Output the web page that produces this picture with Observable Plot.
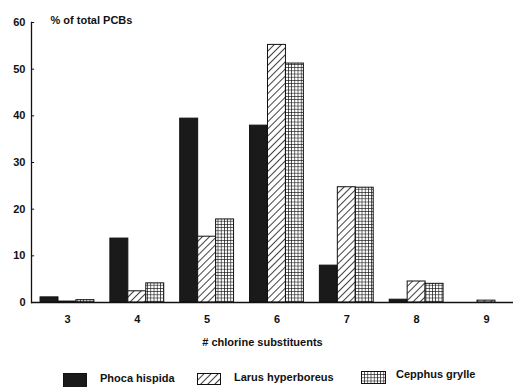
<!DOCTYPE html>
<html>
<head>
<meta charset="utf-8">
<script src="https://cdn.jsdelivr.net/npm/d3@7"></script>
<script src="https://cdn.jsdelivr.net/npm/@observablehq/plot@0.6"></script>
<style>
  body { margin: 0; background: #fff; font-family: "Liberation Sans", Arial, sans-serif; }
  #wrap { position: relative; width: 513px; height: 387px; overflow: hidden; }
  .leg { position: absolute; font: bold 11px "Liberation Sans", Arial, sans-serif; line-height: 13px; color: #111; white-space: nowrap; }
  .sw { position: absolute; }
</style>
</head>
<body>
<svg width="0" height="0" style="position:absolute">
  <defs>
    <pattern id="hatch" patternUnits="userSpaceOnUse" width="5" height="5" patternTransform="rotate(45)">
      <rect width="5" height="5" fill="#fff"/>
      <line x1="0" y1="0" x2="0" y2="5" stroke="#111" stroke-width="1.6"/>
    </pattern>
    <pattern id="grid" patternUnits="userSpaceOnUse" width="3.2" height="3.2">
      <rect width="3.2" height="3.2" fill="#fff"/>
      <path d="M0,0H3.2M0,0V3.2" stroke="#111" stroke-width="1.3" fill="none"/>
    </pattern>
  </defs>
</svg>
<div id="wrap"></div>
<script>
const groups = [3, 4, 5, 6, 7, 8, 9];
const series = ["Phoca hispida", "Larus hyperboreus", "Cepphus grylle"];
const phoca  = [1.1, 13.7, 39.4, 37.9, 7.9, 0.6, 0];
const larus  = [0.2, 2.4, 14.1, 55.2, 24.7, 4.5, 0.4];
const cepphus = [0.5, 4.1, 17.8, 51.2, 24.6, 4.0, 0];
const yTicks = [0, 10, 20, 30, 40, 50, 60];
const fills = {"Phoca hispida": "#1a1a1a", "Larus hyperboreus": "url(#hatch)", "Cepphus grylle": "url(#grid)"};

const values = [phoca, larus, cepphus];
const barW = 0.257;
const xMin = 2.485, xMax = 9.387;
const data = [];
series.forEach((s, si) => {
  groups.forEach((g, gi) => {
    const x1 = g - 1.5 * barW + si * barW;
    data.push({series: s, group: g, value: values[si][gi], x1, x2: x1 + barW});
  });
});

const font = '"Liberation Sans", Arial, sans-serif';
const chart = Plot.plot({
  width: 513,
  height: 350,
  marginLeft: 31,
  marginRight: 0,
  marginTop: 22,
  marginBottom: 48,
  style: {fontFamily: font, fontSize: "11px", fontWeight: "bold", color: "#111", background: "#fff"},
  x: {type: "linear", domain: [xMin, xMax]},
  y: {domain: [0, 60]},
  marks: [
    Plot.rectY(data, {x1: "x1", x2: "x2", y: "value", fill: d => fills[d.series], stroke: "#111", strokeWidth: 1}),
    Plot.ruleY([0], {stroke: "#111", strokeWidth: 1.3}),
    Plot.frame({anchor: "left", stroke: "#111", strokeWidth: 1.3}),
    Plot.ruleY(yTicks, {y: d => d, x1: xMin, x2: xMin + 0.045, stroke: "#111"}),
    Plot.axisY({ticks: yTicks, tickSize: 0, tickPadding: 6, label: null, fontSize: 11, fontWeight: "bold"}),
    Plot.axisX({ticks: groups, tickFormat: d => String(d), tickSize: 0, tickPadding: 13, label: null, fontSize: 11, fontWeight: "bold"}),
    Plot.text(["# chlorine substituents"], {frameAnchor: "bottom", dy: 43, dx: -10, fontSize: 11, fontWeight: "bold"}),
    Plot.text(["% of total PCBs"], {frameAnchor: "top-left", dx: 19, dy: -6, fontSize: 11, fontWeight: "bold", textAnchor: "start"})
  ]
});
document.getElementById("wrap").appendChild(chart);

// legend
const legendPos = [
  {sw: [63, 373, 23, 16], tx: [100, 372]},
  {sw: [197, 373, 23, 11], tx: [234, 371]},
  {sw: [361, 371, 24, 12], tx: [396, 368]}
];
series.forEach((s, i) => {
  const p = legendPos[i];
  const sw = document.createElementNS("http://www.w3.org/2000/svg", "svg");
  sw.setAttribute("class", "sw");
  sw.setAttribute("width", p.sw[2] + 1);
  sw.setAttribute("height", p.sw[3] + 1);
  sw.style.left = p.sw[0] + "px";
  sw.style.top = p.sw[1] + "px";
  const r = document.createElementNS("http://www.w3.org/2000/svg", "rect");
  r.setAttribute("x", 0.5); r.setAttribute("y", 0.5);
  r.setAttribute("width", p.sw[2]); r.setAttribute("height", p.sw[3]);
  r.setAttribute("fill", fills[s]); r.setAttribute("stroke", "#111");
  sw.appendChild(r);
  document.getElementById("wrap").appendChild(sw);
  const t = document.createElement("div");
  t.className = "leg";
  t.textContent = s;
  t.style.left = p.tx[0] + "px";
  t.style.top = p.tx[1] + "px";
  document.getElementById("wrap").appendChild(t);
});
</script>
</body>
</html>
